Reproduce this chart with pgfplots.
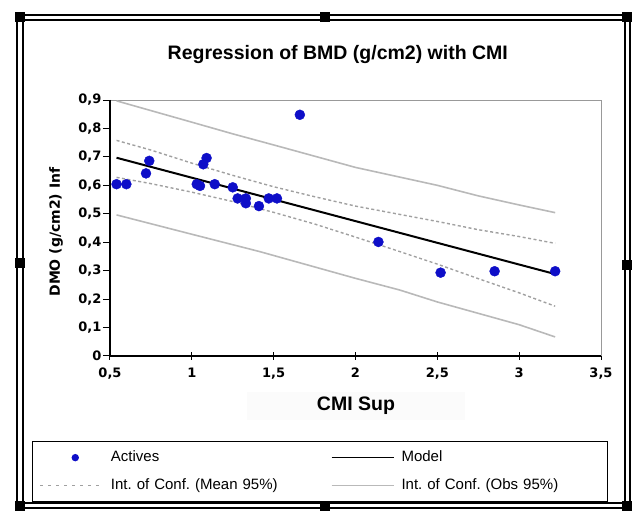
\documentclass[border=0pt]{standalone}
\usepackage{fontspec}
\setmainfont{Liberation Sans}
\newfontfamily\tickfont{DejaVu Sans}
\usepackage{pgfplots}
\pgfplotsset{compat=1.18}
\frenchspacing
\definecolor{ptblue}{RGB}{14,14,200}
\definecolor{obsgray}{RGB}{185,185,185}
\definecolor{meangray}{RGB}{160,160,160}

% observed points
\pgfplotstableread{
x y
0.54 0.604
0.60 0.604
0.72 0.642
0.74 0.686
1.03 0.604
1.05 0.598
1.07 0.674
1.09 0.696
1.14 0.604
1.25 0.593
1.28 0.554
1.33 0.554
1.33 0.537
1.41 0.527
1.47 0.554
1.52 0.554
1.66 0.848
2.14 0.401
2.52 0.293
2.85 0.298
3.22 0.298
}\actives

% confidence bands: x, mean upper, mean lower
\pgfplotstableread{
x up lo
0.54 0.758 0.628
0.75 0.724 0.606
1.00 0.678 0.576
1.25 0.635 0.543
1.50 0.595 0.505
1.75 0.560 0.464
2.00 0.527 0.418
2.25 0.500 0.371
2.50 0.473 0.323
2.75 0.444 0.272
3.00 0.420 0.222
3.22 0.396 0.175
}\meanci

\pgfplotstableread{
x up
0.54 0.897
1.00 0.822
1.25 0.781
1.50 0.742
2.00 0.663
2.50 0.600
2.75 0.563
3.00 0.531
3.22 0.504
}\obsup

\pgfplotstableread{
x lo
0.54 0.496
1.00 0.428
1.415 0.367
2.00 0.273
2.27 0.232
2.50 0.190
3.00 0.110
3.22 0.067
}\obslo

\begin{document}
\begin{tikzpicture}[x=1pt,y=1pt]
\useasboundingbox (0,0) rectangle (635,511);
% chart area frame with handles
\draw[line width=1.6pt] (17,3) rectangle (630,496);
\draw[line width=1.6pt] (23,8) rectangle (625,491);
\foreach \p in {(20,494),(325,494),(627,494),(20,248),(627,246),(20,5),(325,5),(627,5)}
  \fill \p ++(-5,-5) rectangle ++(10,10);

\begin{axis}[
  at={(110pt,155pt)}, anchor=south west,
  width=491pt, height=256pt, scale only axis,
  xmin=0.5, xmax=3.5, ymin=0, ymax=0.9,
  xtick={0.5,1,1.5,2,2.5,3,3.5},
  ytick={0,0.1,0.2,0.3,0.4,0.5,0.6,0.7,0.8,0.9},
  xtick pos=left, ytick pos=left,
  tick align=center, major tick length=8pt,
  y tick style={xshift=-3pt},
  tick style={black, line width=1pt},
  axis line style={draw=gray!80, line width=1pt},
  /pgf/number format/.cd, use comma, fixed, precision=1, assume math mode=true,
  /pgfplots/.cd,
  ticklabel style={font=\tickfont\bfseries\fontsize{13}{15}\selectfont},
  xticklabel style={yshift=-4pt},
  yticklabel style={xshift=-1pt},
  title={Regression of BMD (g/cm2) with CMI},
  title style={at={(axis description cs:0.464,1.156)}, anchor=center,
    font=\bfseries\fontsize{19.5}{22}\selectfont},
  xlabel={CMI Sup},
  xlabel style={at={(axis description cs:0.501,-0.195)}, anchor=center,
    font=\bfseries\fontsize{19.5}{22}\selectfont, fill=black!1.5,
    minimum width=218pt, minimum height=28pt},
  ylabel={DMO (g/cm2) Inf},
  ylabel style={at={(axis description cs:-0.11,0.484)}, anchor=center,
    font=\tickfont\bfseries\fontsize{14}{16}\selectfont},
  legend columns=2, legend cell align=left,
  legend style={at={(axis description cs:-0.1589,-0.332)}, anchor=north west,
    draw=black, line width=1.3pt, fill=white,
    inner xsep=7pt, inner ysep=7pt, row sep=10pt, column sep=0pt,
    font=\frenchspacing\fontsize{15}{17}\selectfont,
    nodes={inner xsep=7pt, inner ysep=2pt, text width=213pt, align=left,
      text height=11pt, text depth=3pt, anchor=west},
    /tikz/column 4/.style={nodes={text width=192pt}}},
]
\addplot[obsgray, line width=1.6pt, forget plot] table[x=x, y=up] {\obsup};
\addplot[obsgray, line width=1.6pt, forget plot] table[x=x, y=lo] {\obslo};
\addplot[meangray, line width=1.4pt, dash pattern=on 3pt off 2.5pt, forget plot] table[x=x, y=up] {\meanci};
\addplot[meangray, line width=1.4pt, dash pattern=on 3pt off 2.5pt, forget plot] table[x=x, y=lo] {\meanci};
\addplot[black, line width=2pt, forget plot] coordinates {(0.54,0.697) (3.22,0.288)};
\addplot[only marks, mark=*, mark size=5pt, ptblue, forget plot] table[x=x, y=y] {\actives};

\addlegendimage{legend image code/.code={\fill[ptblue] (35pt,0pt) circle (3pt); \path (0pt,0pt) (63pt,0pt);}}
\addlegendentry{Actives}
\addlegendimage{legend image code/.code={\draw[black, line width=1.6pt] (0pt,0pt) -- (62pt,0pt);}}
\addlegendentry{Model}
\addlegendimage{legend image code/.code={\draw[meangray, line width=1.2pt, dash pattern=on 3pt off 5pt] (0pt,0pt) -- (63pt,0pt);}}
\addlegendentry{Int. of Conf. (Mean 95\%)}
\addlegendimage{legend image code/.code={\draw[obsgray, line width=1.6pt] (0pt,0pt) -- (62pt,0pt);}}
\addlegendentry{Int. of Conf. (Obs 95\%)}
\end{axis}
\draw[black, line width=1.3pt] (110,411) -- (110,155) -- (601,155);
\end{tikzpicture}
\end{document}
